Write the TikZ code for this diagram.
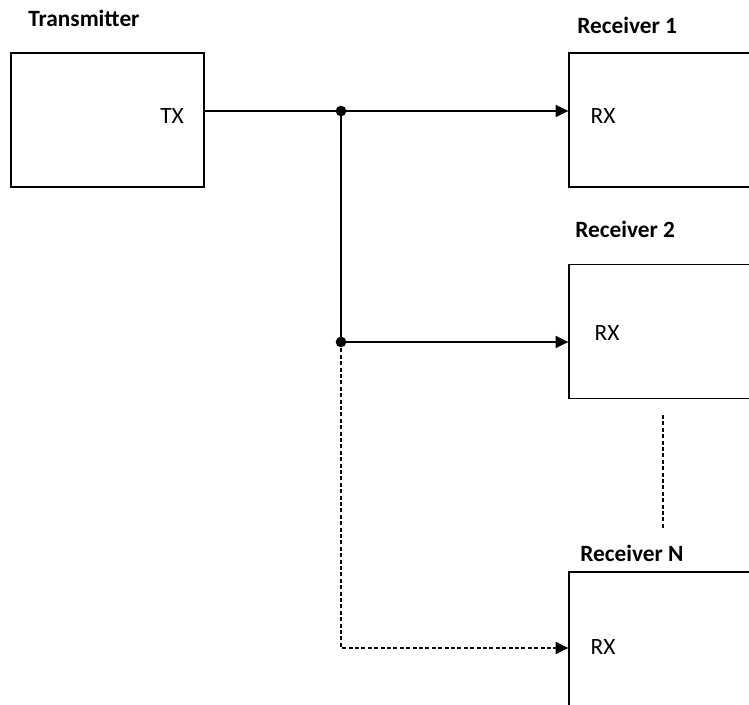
\documentclass[tikz,border=0pt]{standalone}
\usepackage{fontspec}
\setmainfont{Carlito}
\usetikzlibrary{arrows.meta, positioning, calc}

\begin{document}
\begin{tikzpicture}[
  x=0.75pt, y=-0.75pt,
  font=\fontsize{17.5}{21}\selectfont,
  unit/.style={draw, line width=1pt, minimum width=144.75pt,
               minimum height=100.5pt, inner sep=0pt},
  title/.style={font=\fontsize{17.5}{21}\selectfont\bfseries, anchor=west, inner sep=0pt},
  port/.style={inner sep=0pt},
  link/.style={line width=1pt},
  arr/.style={-{Triangle[length=9.5pt, width=9pt]}, line width=1pt},
  dashln/.style={dash pattern=on 3pt off 1.8pt},
  dot/.style={circle, fill, inner sep=0pt, minimum size=8pt}
]
\useasboundingbox (0,0) rectangle (749,705);
\clip (0,0) rectangle (749,705);

%% ---- Transmitter ----
\node[title] (txlbl) at (28,18) {Transmitter};
\node[unit]  (tx)    at (107.5,120) {};
\node[port]  (txp)   at (172,116) {TX};

%% ---- Receivers ----
\node[title] (rx1lbl) at (577,25)  {Receiver 1};
\node[unit]  (rx1)    at (665.5,120) {};
\node[port]  (rx1p)   at (603,116) {RX};

\node[title] (rx2lbl) at (575,229) {Receiver 2};
\node[unit]  (rx2)    at (665.5,331.5) {};
\node[port]  (rx2p)   at (607,333) {RX};

\node[title] (rxNlbl) at (580,553) {Receiver N};
\node[unit]  (rxN)    at (665.5,639) {};
\node[port]  (rxNp)   at (603,647) {RX};

%% ---- Bus ----
\coordinate (j1) at (341,111);
\coordinate (j2) at (341,342);
\coordinate (jN) at (341,648);
\node[dot] (d1) at (j1) {};
\node[dot] (d2) at (j2) {};

\draw[link] (tx.east |- j1) -- (j1);
\draw[arr]  (j1) -- (j1 -| rx1.west);
\draw[link] (j1) -- (j2);
\draw[arr]  (j2) -- (j2 -| rx2.west);
\draw[arr, dashln] (j2) -- (jN) -- (jN -| rxN.west);

%% ---- ellipsis between receivers ----
\coordinate (gapT) at (663,415);
\coordinate (gapB) at (663,530);
\draw[link, dashln, line width=0.8pt] (gapT) -- (gapB);

\end{tikzpicture}
\end{document}
